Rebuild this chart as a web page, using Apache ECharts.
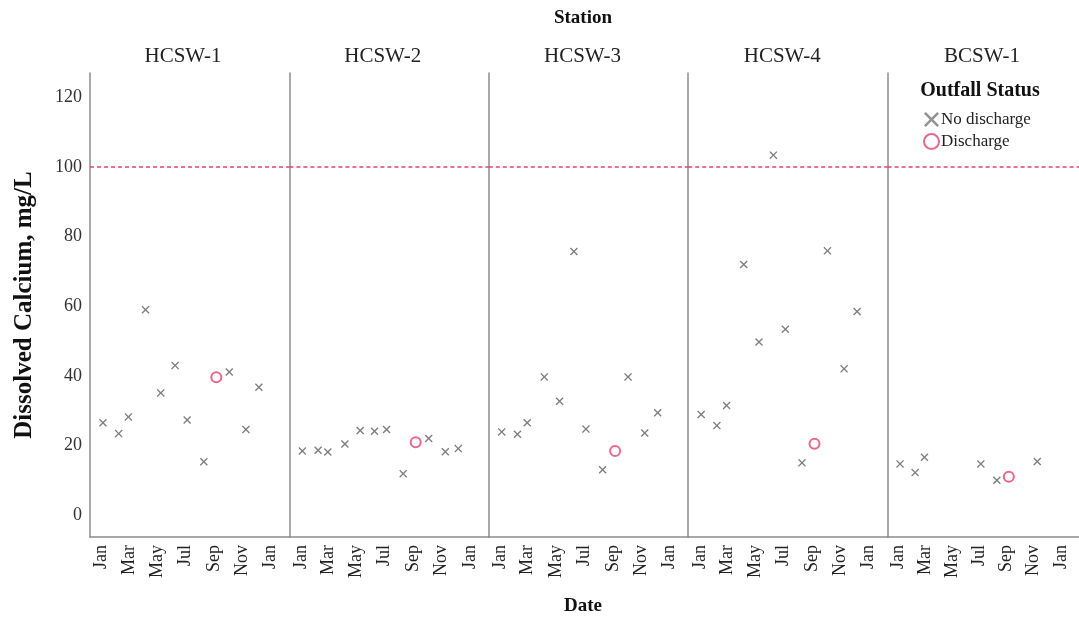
<!DOCTYPE html>
<html>
<head>
<meta charset="utf-8">
<script src="https://cdn.jsdelivr.net/npm/echarts@6/dist/echarts.min.js"></script>
<style>html,body{margin:0;padding:0;background:#fff}#main{width:1079px;height:617px}</style>
</head>
<body>
<div id="main"></div>
<script>
// 站点
const stations = ['HCSW-1', 'HCSW-2', 'HCSW-3', 'HCSW-4', 'BCSW-1'];
// 采样日期
const sampleDates = ['2021-01-04', '2021-02-07', '2021-02-28', '2021-04-06', '2021-05-09', '2021-06-09',
  '2021-07-05', '2021-08-10', '2021-09-06', '2021-10-04', '2021-11-09', '2021-12-07'];
// 排放状态 1 = Discharge
const dischargeFlags = [0, 0, 0, 0, 0, 0, 0, 0, 1, 0, 0, 0];
// 溶解钙 mg/L
const hcsw1 = [26.5, 23.4, 28.2, 59.0, 35.1, 43.0, 27.3, 15.3, 39.6, 41.1, 24.6, 36.7];
const hcsw2 = [18.4, 18.6, 18.1, 20.4, 24.3, 24.1, 24.6, 11.9, 20.9, 22.0, 18.2, 19.1];
const hcsw3 = [23.9, 23.2, 26.5, 39.7, 32.7, 75.7, 24.7, 13.0, 18.4, 39.7, 23.6, 29.4];
const hcsw4 = [28.9, 25.7, 31.5, 72.0, 49.7, 103.4, 53.4, 15.0, 20.5, 75.9, 42.0, 58.5];
const bcsw1 = [14.7, 12.2, 16.6, null, null, null, 14.7, 10.0, 11.0, null, 15.4, null];
const stationValues = [hcsw1, hcsw2, hcsw3, hcsw4, bcsw1];
const guideline = 100;
// 刻度
const yTicks = [0, 20, 40, 60, 80, 100, 120];
const xTicks = ['2021-01-01', '2021-03-01', '2021-05-01', '2021-07-01', '2021-09-01', '2021-11-01', '2022-01-01'];
const monthNames = ['Jan', 'Feb', 'Mar', 'Apr', 'May', 'Jun', 'Jul', 'Aug', 'Sep', 'Oct', 'Nov', 'Dec'];

function toTime(s) {
  const p = s.split('-').map(Number);
  return Date.UTC(p[0], p[1] - 1, p[2]);
}

const font = 'Liberation Serif';
const xMark = 'path://M0,1.2L1.2,0L5,3.8L8.8,0L10,1.2L6.2,5L10,8.8L8.8,10L5,6.2L1.2,10L0,8.8L3.8,5Z';
const grayMark = '#5e5e5e';
const pink = '#e4416c';
const axisGray = '#8c8c8c';

const panelLeft = 90, panelWidth = 199.4;
const grids = [], xAxes = [], yAxes = [], series = [], graphics = [];

stations.forEach(function (name, i) {
  grids.push({ left: panelLeft + i * panelWidth, top: 73, width: panelWidth, height: 464 });
  // 日期轴用数值轴 + 时间戳
  xAxes.push({
    type: 'value', gridIndex: i,
    min: toTime('2020-12-07'), max: toTime('2022-02-11'),
    axisLine: { onZero: false, lineStyle: { color: axisGray, width: 1.5 } },
    axisTick: { show: false },
    splitLine: { show: false },
    axisLabel: {
      customValues: xTicks.map(toTime),
      rotate: 90, margin: 8,
      fontFamily: font, fontSize: 18, color: '#222',
      formatter: function (v) { return monthNames[new Date(v).getUTCMonth()]; }
    }
  });
  yAxes.push({
    type: 'value', gridIndex: i, min: -6.3, max: 127,
    axisLine: { show: true, onZero: false, lineStyle: { color: axisGray, width: 1.5 } },
    axisTick: { show: false },
    splitLine: { show: false },
    axisLabel: {
      show: i === 0, customValues: yTicks, margin: 8,
      fontFamily: font, fontSize: 18, color: '#333'
    },
    name: i === 0 ? 'Dissolved Calcium, mg/L' : '',
    nameLocation: 'middle', nameGap: 53,
    nameTextStyle: { fontFamily: font, fontWeight: 'bold', fontSize: 25, color: '#111' }
  });

  const vals = stationValues[i];
  const noDis = [], dis = [];
  sampleDates.forEach(function (d, k) {
    if (vals[k] == null) return;
    (dischargeFlags[k] ? dis : noDis).push([toTime(d), vals[k]]);
  });

  series.push({
    name: 'No discharge', type: 'scatter', xAxisIndex: i, yAxisIndex: i,
    symbol: xMark, symbolSize: 8,
    itemStyle: { color: grayMark },
    data: noDis
  });
  series.push({
    name: 'Discharge', type: 'scatter', xAxisIndex: i, yAxisIndex: i,
    symbol: 'emptyCircle', symbolSize: 10,
    itemStyle: { color: pink, borderWidth: 2 },
    data: dis,
    markLine: {
      silent: true, symbol: ['none', 'none'],
      label: { show: false },
      lineStyle: { color: pink, type: [4, 3], width: 1.5 },
      data: [{ yAxis: guideline }]
    }
  });

  graphics.push({
    type: 'text', x: 183 + i * 199.75, y: 56,
    style: { text: name, align: 'center', verticalAlign: 'middle', font: '21px "' + font + '"', fill: '#222' }
  });
});

graphics.push({
  type: 'text', x: 583, y: 18,
  style: { text: 'Station', align: 'center', verticalAlign: 'middle', font: 'bold 19px "' + font + '"', fill: '#111' }
});
graphics.push({
  type: 'text', x: 583, y: 606,
  style: { text: 'Date', align: 'center', verticalAlign: 'middle', font: 'bold 19px "' + font + '"', fill: '#111' }
});
graphics.push({
  type: 'text', x: 980, y: 91,
  style: { text: 'Outfall Status', align: 'center', verticalAlign: 'middle', font: 'bold 20px "' + font + '"', fill: '#111' }
});

var chart = echarts.init(document.getElementById('main'));
chart.setOption({
  animation: false,
  grid: grids,
  xAxis: xAxes,
  yAxis: yAxes,
  series: series,
  graphic: graphics,
  legend: {
    orient: 'vertical', left: 923, top: 111, padding: 0,
    itemWidth: 15, itemHeight: 15, itemGap: 5,
    textStyle: { fontFamily: font, fontSize: 17, color: '#222', padding: [0, 0, 0, -3] },
    data: [
      { name: 'No discharge', icon: xMark, itemStyle: { color: '#777' } },
      { name: 'Discharge', icon: 'emptyCircle' }
    ]
  }
});
</script>
</body>
</html>
